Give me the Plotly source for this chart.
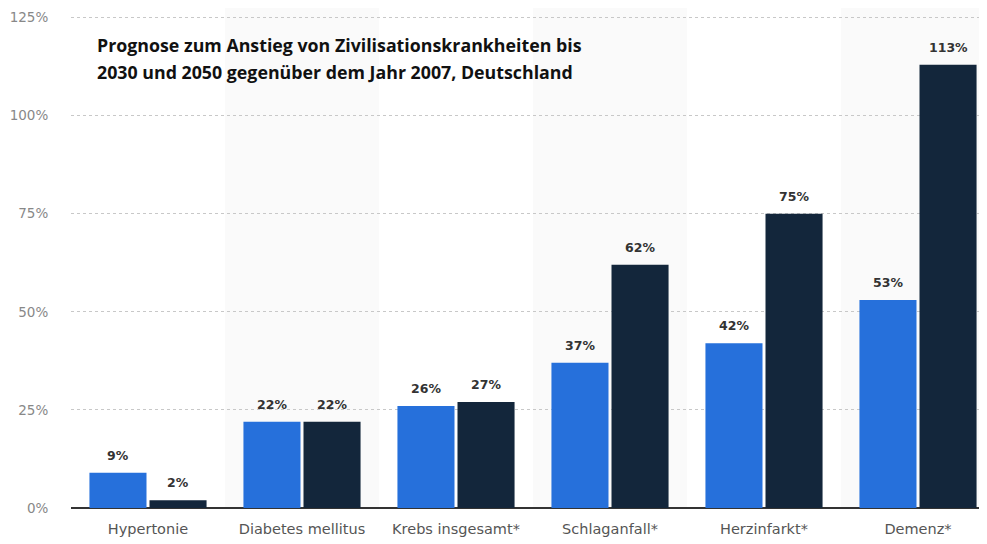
import plotly.graph_objects as go

categories = ["Hypertonie", "Diabetes mellitus", "Krebs insgesamt*", "Schlaganfall*", "Herzinfarkt*", "Demenz*"]
values_2030 = [9, 22, 26, 37, 42, 53]
values_2050 = [2, 22, 27, 62, 75, 113]
y_ticks = [0, 25, 50, 75, 100, 125]
y_tick_labels = ["0%", "25%", "50%", "75%", "100%", "125%"]
title_lines = ["Prognose zum Anstieg von Zivilisationskrankheiten bis",
               "2030 und 2050 gegenüber dem Jahr 2007, Deutschland"]

xs = list(range(len(categories)))
BLUE = "#2670db"
NAVY = "#13263b"

fig = go.Figure()
fig.add_trace(go.Bar(x=xs, y=values_2030, name="2030", marker=dict(color=BLUE, line=dict(width=0))))
fig.add_trace(go.Bar(x=xs, y=values_2050, name="2050", marker=dict(color=NAVY, line=dict(width=0))))

shapes = []
for i in xs:
    if i % 2 == 1:
        shapes.append(dict(type="rect", xref="x", yref="paper", x0=i - 0.5, x1=i + 0.5, y0=0, y1=1.02,
                           fillcolor="#fafafa", line=dict(width=0), layer="below"))

annotations = []
off = 0.195
for i, (a, b) in enumerate(zip(values_2030, values_2050)):
    for xv, v in ((i - off, a), (i + off, b)):
        annotations.append(dict(x=xv, y=v, xref="x", yref="y", text=f"{v}%", showarrow=False,
                                yanchor="bottom", yshift=8,
                                font=dict(family="DejaVu Sans", size=12.5, color="#333333", weight="bold")))
for line, ypos in zip(title_lines, [0.941, 0.886]):
    annotations.append(dict(x=0.026, y=ypos, xref="paper", yref="paper", text=line, showarrow=False,
                            xanchor="left", yanchor="middle", align="left",
                            font=dict(family="Open Sans", size=17.8, color="#111111", weight="bold")))

fig.update_layout(
    width=987, height=544,
    margin=dict(l=63, r=0, t=8, b=44, autoexpand=False),
    paper_bgcolor="white", plot_bgcolor="rgba(0,0,0,0)",
    barmode="group", bargap=0.22, bargroupgap=0.05,
    showlegend=False,
    shapes=shapes, annotations=annotations,
    xaxis=dict(range=[-0.5, 5.5], tickvals=xs, ticktext=categories, showgrid=False, zeroline=False,
               showline=False, ticks="outside", ticklen=8, tickcolor="rgba(0,0,0,0)", automargin=False,
               tickfont=dict(family="DejaVu Sans", size=14.5, color="#555555")),
    yaxis=dict(range=[0, 125.4], tickvals=y_ticks, ticktext=y_tick_labels, showgrid=True,
               gridcolor="#c8c8c8", griddash="dot", gridwidth=1,
               zeroline=True, zerolinecolor="#333333", zerolinewidth=1.5,
               ticks="outside", ticklen=19, tickcolor="rgba(0,0,0,0)", automargin=False,
               tickfont=dict(family="DejaVu Sans", size=13.5, color="#888888")),
)
fig.write_html("out.html")
